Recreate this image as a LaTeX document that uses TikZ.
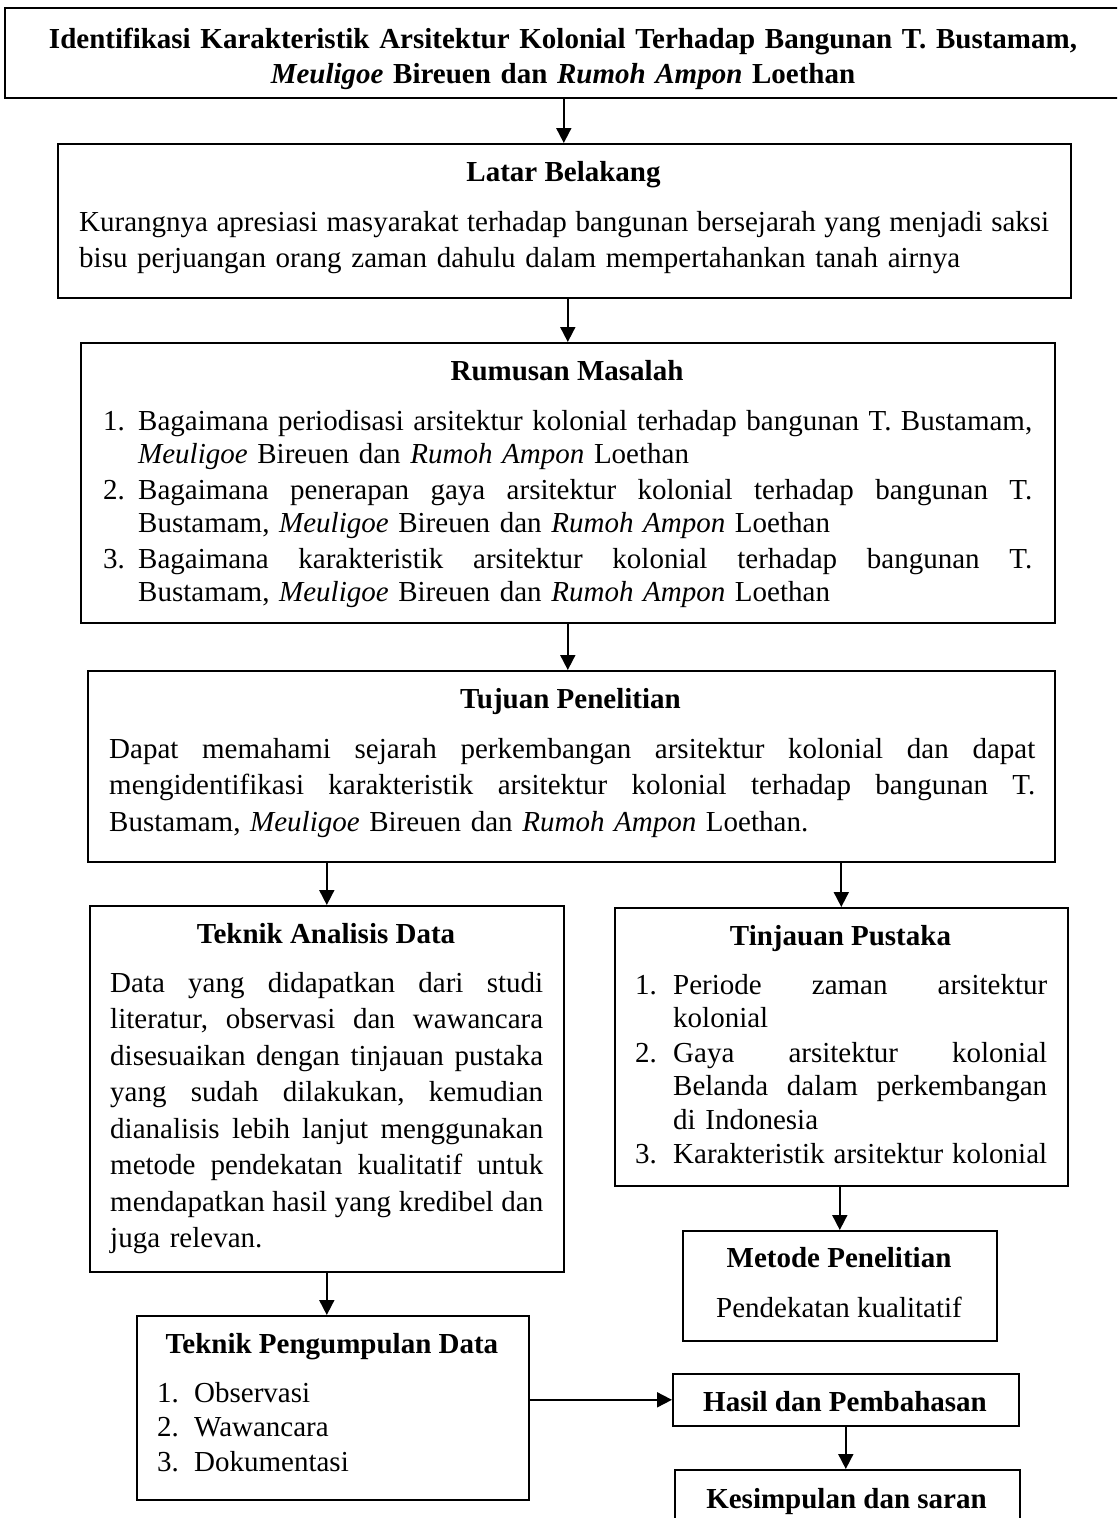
\documentclass[tikz,border=0pt]{standalone}
\usepackage{fontspec}
\setmainfont{Liberation Serif}
\usetikzlibrary{arrows.meta}
\newlength\lind
\setlength\lind{36pt}
\newcommand\jsp{\spaceskip=0.25em plus 1fil minus 0.1em\relax}
\newcommand\myJL[1]{\makebox[\linewidth][s]{\jsp #1}}
\newcommand\myIJ[2]{\makebox[\lind][l]{#1}\makebox[\dimexpr\linewidth-\lind\relax][s]{\jsp #2}}
\newcommand\myIL[2]{\makebox[\lind][l]{#1}\mbox{#2}}
\newcommand\bodyfont{\fontsize{29}{36.5}\selectfont\frenchspacing}
\newcommand\listfont{\fontsize{29}{33.5}\selectfont\frenchspacing}
\begin{document}
\begin{tikzpicture}[x=1pt,y=-1pt,
  box/.style={draw=black, line width=1.6pt, anchor=north west, inner sep=0pt, minimum width=#1},
  box/.default=10pt,
  para/.style={inner sep=0pt, anchor=base west, font=\bodyfont},
  lst/.style={inner sep=0pt, anchor=base west, font=\listfont},
  head/.style={inner sep=0pt, anchor=base, font=\bodyfont\bfseries},
  arr/.style={line width=1.8pt, -{Triangle[width=15pt,length=15pt]}}]
\useasboundingbox (0,0) rectangle (1117,1518);
\clip (0,0) rectangle (1117,1518);

% boxes
\node[box=1118pt, minimum height=90pt]  (top)   at (4,7) {};
\node[box=1013pt, minimum height=154pt] (latar) at (57,143) {};
\node[box=974pt,  minimum height=280pt] (rum)   at (80,342) {};
\node[box=967pt,  minimum height=191pt] (tuj)   at (87,670) {};
\node[box=474pt,  minimum height=366pt] (tad)   at (89,905) {};
\node[box=453pt,  minimum height=278pt] (tin)   at (614,907) {};
\node[box=314pt,  minimum height=110pt] (met)   at (682,1230) {};
\node[box=392pt,  minimum height=184pt] (tpd)   at (136,1315) {};
\node[box=346pt,  minimum height=52pt]  (has)   at (672,1373) {};
\node[box=345pt,  minimum height=80pt]  (kes)   at (674,1469) {};

% top title
\node[inner sep=0pt, anchor=base, text width=1110pt, align=center,
      font=\fontsize{29}{35}\selectfont\bfseries\frenchspacing] (toptxt) at (563,48)
  {Identifikasi Karakteristik Arsitektur Kolonial Terhadap Bangunan T. Bustamam,\\
   \textit{Meuligoe} Bireuen dan \textit{Rumoh Ampon} Loethan};

% Latar Belakang
\node[head] (latarh) at (563.5,181) {Latar Belakang};
\node[para, text width=970pt] (latart) at (79,231)
  {\myJL{Kurangnya apresiasi masyarakat terhadap bangunan bersejarah yang menjadi saksi}\\
   \mbox{bisu perjuangan orang zaman dahulu dalam mempertahankan tanah airnya}};

% Rumusan Masalah
\node[head] (rumh) at (567,380) {Rumusan Masalah};
\node[lst, text width=929pt] (rumt) at (103,430)
  {\setlength\lind{35pt}%
   \myIJ{1.}{Bagaimana periodisasi arsitektur kolonial terhadap bangunan T. Bustamam,}\\
   \myIL{}{\textit{Meuligoe} Bireuen dan \textit{Rumoh Ampon} Loethan}\\[2pt]
   \myIJ{2.}{Bagaimana penerapan gaya arsitektur kolonial terhadap bangunan T.}\\
   \myIL{}{Bustamam, \textit{Meuligoe} Bireuen dan \textit{Rumoh Ampon} Loethan}\\[2pt]
   \myIJ{3.}{Bagaimana karakteristik arsitektur kolonial terhadap bangunan T.}\\
   \myIL{}{Bustamam, \textit{Meuligoe} Bireuen dan \textit{Rumoh Ampon} Loethan}};

% Tujuan Penelitian
\node[head] (tujh) at (570.5,708) {Tujuan Penelitian};
\node[para, text width=926pt] (tujt) at (109,758)
  {\myJL{Dapat memahami sejarah perkembangan arsitektur kolonial dan dapat}\\
   \myJL{mengidentifikasi karakteristik arsitektur kolonial terhadap bangunan T.}\\
   \mbox{Bustamam, \textit{Meuligoe} Bireuen dan \textit{Rumoh Ampon} Loethan.}};

% Teknik Analisis Data
\node[head] (tadh) at (326,943) {Teknik Analisis Data};
\node[para, text width=433pt] (tadt) at (110,992)
  {\myJL{Data yang didapatkan dari studi}\\
   \myJL{literatur, observasi dan wawancara}\\
   \myJL{disesuaikan dengan tinjauan pustaka}\\
   \myJL{yang sudah dilakukan, kemudian}\\
   \myJL{dianalisis lebih lanjut menggunakan}\\
   \myJL{metode pendekatan kualitatif untuk}\\
   \myJL{mendapatkan hasil yang kredibel dan}\\
   \mbox{juga relevan.}};

% Tinjauan Pustaka
\node[head] (tinh) at (840.5,945) {Tinjauan Pustaka};
\node[lst, text width=412pt] (tint) at (635,994)
  {\setlength\lind{38pt}%
   \myIJ{1.}{Periode zaman arsitektur}\\
   \myIL{}{kolonial}\\[1pt]
   \myIJ{2.}{Gaya arsitektur kolonial}\\
   \myIJ{}{Belanda dalam perkembangan}\\
   \myIL{}{di Indonesia}\\[1pt]
   \myIJ{3.}{Karakteristik arsitektur kolonial}};

% Metode Penelitian
\node[head] (meth) at (839,1267) {Metode Penelitian};
\node[inner sep=0pt, anchor=base, font=\bodyfont] (mett) at (839,1317) {Pendekatan kualitatif};

% Teknik Pengumpulan Data
\node[head] (tpdh) at (332,1353) {Teknik Pengumpulan Data};
\node[inner sep=0pt, anchor=base west, font=\fontsize{29}{34.5}\selectfont, text width=330pt] (tpdt) at (157,1402)
  {\setlength\lind{37pt}%
   \myIL{1.}{Observasi}\\
   \myIL{2.}{Wawancara}\\
   \myIL{3.}{Dokumentasi}};

% Hasil, Kesimpulan
\node[head] (hash) at (845,1411) {Hasil dan Pembahasan};
\node[head] (kesh) at (846.5,1508) {Kesimpulan dan saran};

% connectors
\draw[arr] (top.south) -- (top.south |- latar.north);
\draw[arr] (rum.north |- latar.south) -- (rum.north);
\draw[arr] (rum.south) -- (rum.south |- tuj.north);
\draw[arr] (tad.north |- tuj.south) -- (tad.north);
\draw[arr] (tin.north |- tuj.south) -- (tin.north);
\draw[arr] (tad.south) -- (tad.south |- tpd.north);
\draw[arr] (met.north |- tin.south) -- (met.north);
\draw[arr] (has.west -| tpd.east) -- (has.west);
\draw[arr] (has.south) -- (has.south |- kes.north);
\end{tikzpicture}
\end{document}
